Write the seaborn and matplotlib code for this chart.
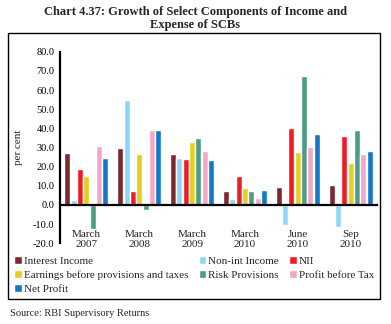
import matplotlib
matplotlib.use("Agg")
import matplotlib.pyplot as plt
from matplotlib.patches import Rectangle
import seaborn as sns
import pandas as pd

periods = ["March\n2007", "March\n2008", "March\n2009", "March\n2010", "June\n2010", "Sep\n2010"]
series = ["Interest Income", "Non-int Income", "NII",
          "Earnings before provisions and taxes", "Risk Provisions",
          "Profit before Tax", "Net Profit"]
interest_income = [27.0, 29.9, 26.4, 7.3, 9.4, 10.3]
non_int_income = [2.6, 54.8, 24.7, 3.0, -10.4, -11.5]
nii = [19.0, 7.3, 24.0, 15.0, 40.3, 36.2]
ebpt = [15.0, 26.4, 33.0, 9.0, 27.5, 21.7]
risk_provisions = [-12.7, -2.8, 35.0, 7.3, 67.3, 39.3]
profit_before_tax = [30.8, 39.3, 28.2, 3.8, 30.3, 26.8]
net_profit = [24.3, 39.0, 23.5, 7.7, 36.9, 28.0]
y_ticks = [-20, -10, 0, 10, 20, 30, 40, 50, 60, 70, 80]

colors = ["#7A2A2E", "#8ED6F6", "#EE1D25", "#E2CF1E", "#4C9C86", "#F2A7C5", "#1478C7"]

values = [interest_income, non_int_income, nii, ebpt, risk_provisions, profit_before_tax, net_profit]
rows = []
for s, vals in zip(series, values):
    for p, v in zip(periods, vals):
        rows.append({"period": p, "series": s, "value": v})
df = pd.DataFrame(rows)

sns.set_style("white")
plt.rcParams["font.family"] = ["Liberation Serif", "DejaVu Serif"]

fig = plt.figure(figsize=(3.91, 3.24), dpi=100)
ax = fig.add_axes([60/391, 1-243.3/324, 317/391, (243.3-51.7)/324])

sns.barplot(data=df, x="period", y="value", hue="series", order=periods,
            hue_order=series, palette=colors, width=0.84, gap=0.05,
            saturation=1, ax=ax, legend=True)

ax.set_ylim(-20, 80)
ax.set_xlim(-0.5, 5.5)
ax.set_yticks(y_ticks)
ax.set_yticklabels([f"{t:.1f}" for t in y_ticks], fontsize=7.5)
ax.set_ylabel("per cent", fontsize=8, labelpad=7)
ax.set_xlabel("")

for s in ["top", "right"]:
    ax.spines[s].set_visible(False)
ax.spines["left"].set_linewidth(1.6)
ax.spines["left"].set_color("black")
ax.spines["bottom"].set_position(("data", 0))
ax.spines["bottom"].set_linewidth(1.6)
ax.spines["bottom"].set_color("black")

ax.tick_params(axis="y", direction="out", length=3, width=1, colors="black", pad=1)
ax.set_xticks(range(len(periods)))
ax.set_xticklabels(periods, fontsize=8, linespacing=1.15)
ax.tick_params(axis="x", length=0, pad=18)
ax.set_xticks([i + 0.5 for i in range(len(periods))], minor=True)
ax.tick_params(axis="x", which="minor", direction="out", length=3, width=1, colors="black")

handles, labels = ax.get_legend_handles_labels()
ax.get_legend().remove()
order = [0, 3, 6, 1, 4, 2, 5]
leg = fig.legend([handles[i] for i in order], [labels[i] for i in order],
                 ncol=3, loc="upper left", bbox_to_anchor=(14/391, 1-256/324),
                 frameon=False, fontsize=8, handlelength=0.7, handleheight=0.7,
                 handletextpad=0.2, columnspacing=0.9, labelspacing=0.4,
                 borderaxespad=0, borderpad=0)

fig.add_artist(Rectangle((8/391, 1-299/324), 372/391, 266/324, transform=fig.transFigure,
                         fill=False, edgecolor="black", linewidth=1))

fig.text(0.5, 1-6/324, "Chart 4.37: Growth of Select Components of Income and\nExpense of SCBs",
         ha="center", va="top", fontsize=9, fontweight="bold", linespacing=1.1)
fig.text(10/391, 1-313/324, "Source: RBI Supervisory Returns", ha="left", va="center", fontsize=7.5)

fig.savefig("out.png", dpi=100)
